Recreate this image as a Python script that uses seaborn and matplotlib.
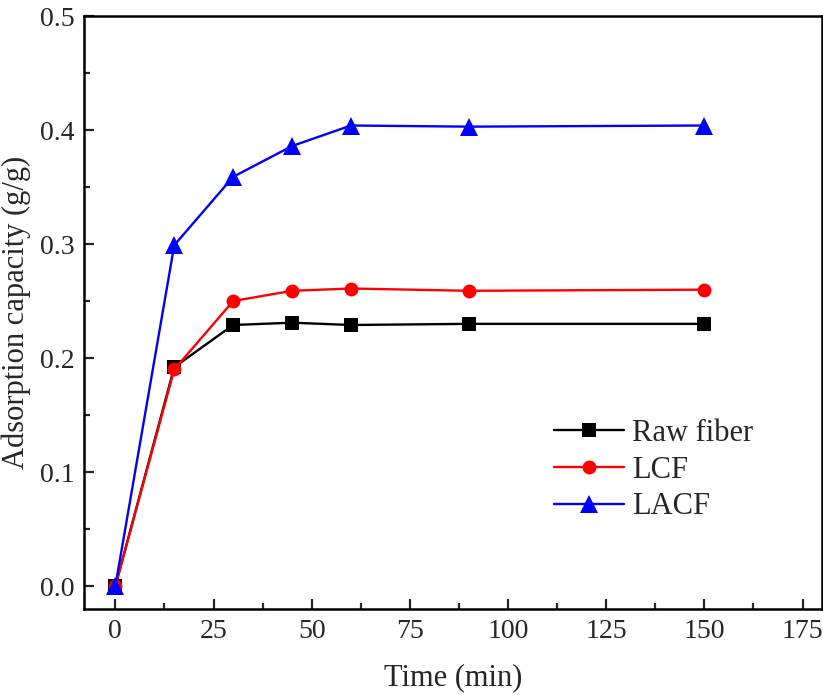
import pandas as pd
import numpy as np
import matplotlib
matplotlib.use('Agg')
import matplotlib.pyplot as plt
from matplotlib.ticker import MultipleLocator
import seaborn as sns

# data
time_min = [0, 15, 30, 45, 60, 90, 150]
raw_fiber = [0.0, 0.192, 0.229, 0.231, 0.229, 0.230, 0.230]
lcf = [0.0, 0.190, 0.250, 0.259, 0.261, 0.259, 0.260]
lacf = [0.0, 0.299, 0.359, 0.386, 0.404, 0.403, 0.404]
series_names = ['Raw fiber', 'LCF', 'LACF']
series_colors = ['black', 'red', 'blue']
series_markers = ['s', 'o', '^']

df = pd.DataFrame({
    'Time': time_min * 3,
    'Capacity': raw_fiber + lcf + lacf,
    'Sample': np.repeat(series_names, len(time_min)),
})

sns.set_style('ticks')
plt.rcParams['font.family'] = ['Liberation Serif', 'DejaVu Serif']

fig = plt.figure(figsize=(8.23, 6.99), dpi=100)
ax = fig.add_axes([0.102, 0.129, 0.897, 0.848])

sns.lineplot(data=df, x='Time', y='Capacity', hue='Sample', style='Sample',
             palette=dict(zip(series_names, series_colors)),
             markers=dict(zip(series_names, series_markers)),
             dashes=False, linewidth=1.7, markersize=10, markeredgewidth=0,
             ax=ax)

# triangles look bigger in the original
for ln in ax.lines:
    if ln.get_marker() == '^':
        ln.set_markersize(12.5)

ax.set_xlim(-8, 180)
ax.set_ylim(-0.02, 0.5)
ax.xaxis.set_major_locator(MultipleLocator(25))
ax.xaxis.set_minor_locator(MultipleLocator(12.5))
ax.yaxis.set_major_locator(MultipleLocator(0.1))
ax.yaxis.set_minor_locator(MultipleLocator(0.05))
ax.yaxis.set_major_formatter(plt.FormatStrFormatter('%.1f'))

ax.tick_params(which='both', direction='in', top=False, right=False,
               width=1.6, labelsize=20, pad=7)
ax.tick_params(which='major', length=7)
ax.tick_params(which='minor', length=4)
for sp in ax.spines.values():
    sp.set_linewidth(1.8)
    sp.set_color('black')

ax.set_xlabel('Time (min)', fontsize=22, labelpad=14)
ax.set_ylabel('Adsorption capacity (g/g)', fontsize=22, labelpad=6)

leg = ax.legend(loc='center left', bbox_to_anchor=(0.637, 0.234),
                frameon=False, fontsize=22, handlelength=2.3,
                handletextpad=0.25, labelspacing=0.25,
                borderaxespad=0, borderpad=0)
for h in leg.legend_handles:
    h.set_linewidth(1.7)
    if h.get_marker() == '^':
        h.set_markersize(12.5)

fig.savefig('out.png', dpi=100)
